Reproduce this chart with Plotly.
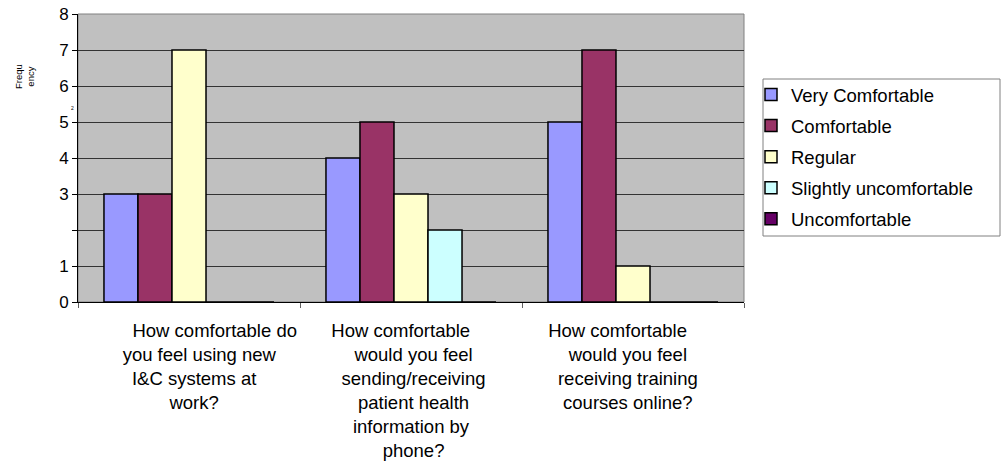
import plotly.graph_objects as go

# Survey questions (x categories), one list entry per printed line
question_lines = [
    ["How comfortable do", "you feel using new", "I&C systems at", "work?"],
    ["How comfortable", "would you feel", "sending/receiving", "patient health",
     "information by", "phone?"],
    ["How comfortable", "would you feel", "receiving training", "courses online?"],
]

# Responses per answer option (frequency for each question)
series_names = ["Very Comfortable", "Comfortable", "Regular",
                "Slightly uncomfortable", "Uncomfortable"]
very_comfortable = [3, 4, 5]
comfortable = [3, 5, 7]
regular = [7, 3, 1]
slightly_uncomfortable = [0, 2, 0]
uncomfortable = [0, 0, 0]

y_tick_values = [0, 1, 2, 3, 4, 5, 6, 7, 8]
y_tick_labels = ["0", "1", "", "3", "4", "5", "6", "7", "8"]

colors = ["#9999FF", "#993366", "#FFFFCC", "#CCFFFF", "#660066"]

# Horizontal nudges for each label line (positive = pad left, negative = pad right)
line_nudge = [
    [10, 4, 2, 2],
    [-4, 1, 1, 1, 0, 1],
    [-6, -2, -2, -2],
]

NB = "\u00a0"


def pad(text, n):
    return NB * n + text if n >= 0 else text + NB * (-n)


categories = ["<br>".join(l[0] for l in lines) for lines in question_lines]
tick_text = ["<br>".join(pad(t, n) for t, n in zip(lines, nudges))
             for lines, nudges in zip(question_lines, line_nudge)]

values = [very_comfortable, comfortable, regular, slightly_uncomfortable, uncomfortable]

FONT = "Liberation Sans, Arial, sans-serif"

fig = go.Figure()
for name, vals, col in zip(series_names, values, colors):
    fig.add_trace(go.Bar(
        x=categories, y=vals, name=name, legendgroup=name,
        marker=dict(color=col, line=dict(color="black", width=1.5)),
    ))

L, R, T, B = 78, 258, 14, 164
W, H = 1002, 466
pw, ph = W - L - R, H - T - B


def px(x):
    return (x - L) / pw


def py(y):
    return (H - B - y) / ph


fig.update_layout(
    width=W, height=H,
    margin=dict(l=L, r=R, t=T, b=B, autoexpand=False),
    paper_bgcolor="white",
    plot_bgcolor="#C0C0C0",
    barmode="group",
    bargap=0.234,
    bargroupgap=0,
    font=dict(family=FONT, color="black"),
    showlegend=True,
    legend=dict(
        x=px(751), y=py(76), xanchor="left", yanchor="top",
        bgcolor="rgba(0,0,0,0)", borderwidth=0,
        font=dict(size=18.5, family=FONT),
        traceorder="grouped",
        tracegroupgap=4,
    ),
    xaxis=dict(
        type="category",
        tickmode="array", tickvals=categories, ticktext=tick_text,
        tickson="boundaries", ticks="outside", ticklen=5,
        tickcolor="#606060", tickwidth=1,
        tickangle=0,
        ticklabelstandoff=12,
        showgrid=False, showline=True, linecolor="black", linewidth=1,
        tickfont=dict(size=18.5, family=FONT),
        zeroline=False,
    ),
    yaxis=dict(
        range=[0, 8], tickmode="array", tickvals=y_tick_values, ticktext=y_tick_labels,
        ticks="outside", ticklen=5, tickcolor="black", tickwidth=1,
        showgrid=True, gridcolor="#333333", gridwidth=1,
        showline=True, linecolor="black", linewidth=1,
        tickfont=dict(size=17, family=FONT),
        zeroline=False,
    ),
    shapes=[
        # plot frame (top / right edges)
        dict(type="rect", xref="paper", yref="paper", x0=0, x1=1, y0=0, y1=1,
             line=dict(color="#808080", width=1), layer="below"),
        # legend box
        dict(type="rect", xref="paper", yref="paper",
             x0=px(763), x1=px(1000), y0=py(236), y1=py(79),
             line=dict(color="#808080", width=1), fillcolor="white", layer="below"),
    ],
    annotations=[
        dict(text="Frequ<br>ency", xref="paper", yref="paper", x=px(11), y=py(62),
             textangle=-90, showarrow=False, font=dict(size=9.5, family=FONT)),
        dict(text="2", xref="paper", yref="paper", x=px(69), y=py(103),
             showarrow=False, font=dict(size=5, family=FONT)),
    ],
)

fig.write_html("out.html")
